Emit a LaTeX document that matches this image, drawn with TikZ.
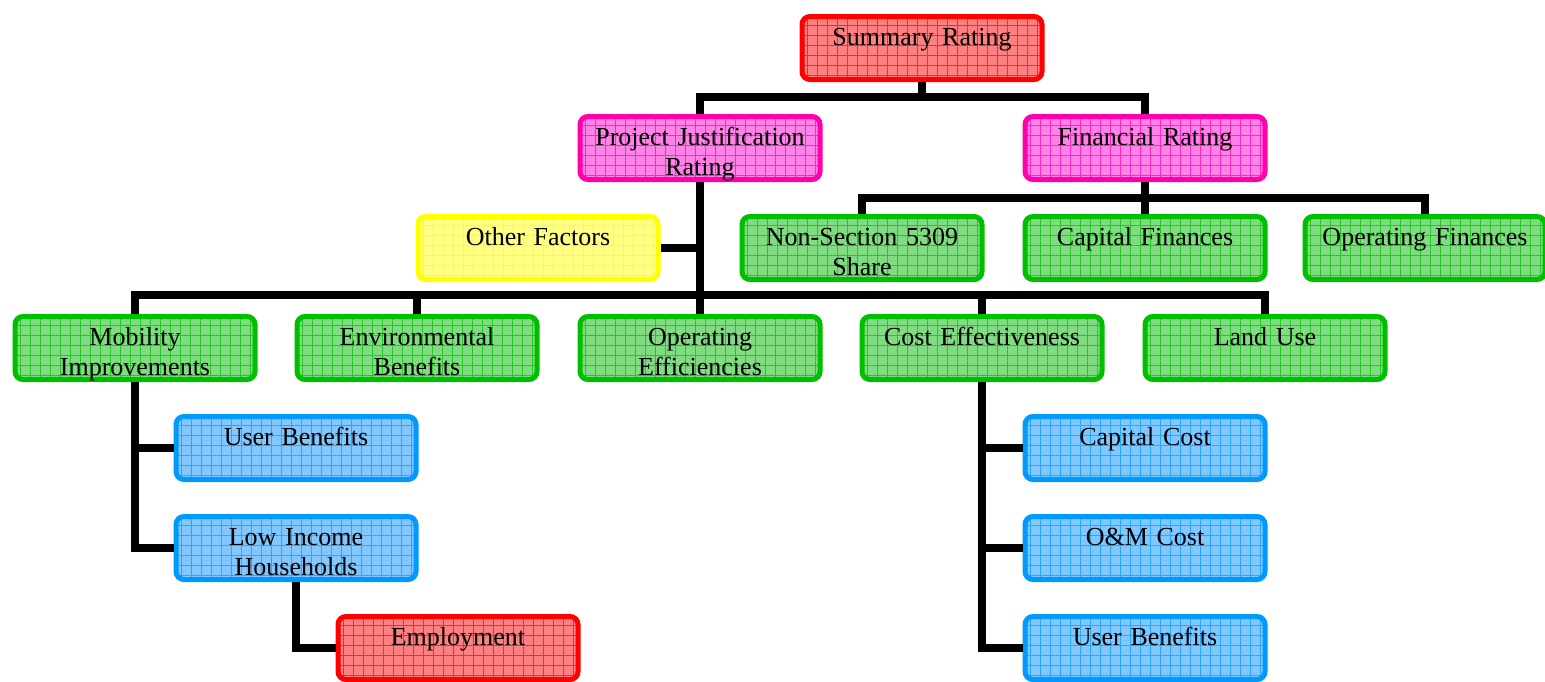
\documentclass[tikz,border=0pt]{standalone}
\usepackage{fontspec}
\setmainfont{Liberation Serif}
\usetikzlibrary{calc}

\definecolor{redline}{RGB}{255,0,0}
\definecolor{redfill}{RGB}{255,128,128}
\definecolor{pinkline}{RGB}{255,0,170}
\definecolor{pinkfill}{RGB}{255,130,232}
\definecolor{yellowline}{RGB}{255,255,0}
\definecolor{yellowfill}{RGB}{255,255,130}
\definecolor{greenline}{RGB}{0,190,0}
\definecolor{greenfill}{RGB}{128,220,128}
\definecolor{blueline}{RGB}{0,153,255}
\definecolor{bluefill}{RGB}{128,200,255}

\tikzset{
  orgbox/.style={draw=#1line, fill=#1fill, line width=5pt, rounded corners=8pt,
    text width=230pt, align=center, minimum width=240pt,
    inner xsep=0pt, inner ysep=0pt, text height=29pt, text depth=34pt,
    font=\fontsize{26}{30}\selectfont,
    path picture={\draw[#1line!70!#1fill, line width=0.5pt, step=10pt]
      (path picture bounding box.south west) grid (path picture bounding box.north east);}},
  link/.style={line width=7.5pt}
}

\begin{document}
\begin{tikzpicture}[x=1pt, y=-1pt]
  \useasboundingbox (0,0) rectangle (1545,681);
  % rating boxes
  \node[orgbox=red] (sumrate) at (922,48) {Summary Rating};
  \node[orgbox=pink] (projrate) at (700,148) {Project Justification\\Rating};
  \node[orgbox=pink] (finrate) at (1145,148) {Financial Rating};
  % second level
  \node[orgbox=yellow] (other) at (538,248) {Other Factors};
  \node[orgbox=green] (nonsec) at (862,248) {Non-Section 5309\\Share};
  \node[orgbox=green] (capfin) at (1145,248) {Capital Finances};
  \node[orgbox=green] (opfin) at (1425,248) {Operating Finances};
  % justification criteria
  \node[orgbox=green] (mobil) at (135,348) {Mobility\\Improvements};
  \node[orgbox=green] (envben) at (417,348) {Environmental\\Benefits};
  \node[orgbox=green] (opeff) at (700,348) {Operating\\Efficiencies};
  \node[orgbox=green] (costeff) at (982,348) {Cost Effectiveness};
  \node[orgbox=green] (landuse) at (1265,348) {Land Use};
  % measures
  \node[orgbox=blue] (userben) at (296,448) {User Benefits};
  \node[orgbox=blue] (lowinc) at (296,548) {Low Income\\Households};
  \node[orgbox=red] (employ) at (458,648) {Employment};
  \node[orgbox=blue] (capcost) at (1145,448) {Capital Cost};
  \node[orgbox=blue] (omcost) at (1145,548) {O\&M Cost};
  \node[orgbox=blue] (userbentwo) at (1145,648) {User Benefits};

  % connectors
  \foreach \n in {projrate,finrate}{\draw[link] (sumrate.south) -- ++(0,15) -| (\n.north);}
  \foreach \n in {nonsec,capfin,opfin}{\draw[link] (finrate.south) -- ++(0,16) -| (\n.north);}
  \coordinate (jbus) at ($(projrate.south)+(0,113)$);
  \foreach \n in {mobil,envben,opeff,costeff,landuse}{\draw[link] (projrate.south) -- (jbus) -| (\n.north);}
  \draw[link] (other.east) -- (other.east -| projrate.south);
  \foreach \n in {userben,lowinc}{\draw[link] (mobil.south) |- (\n.west);}
  \draw[link] (lowinc.south) |- (employ.west);
  \foreach \n in {capcost,omcost,userbentwo}{\draw[link] (costeff.south) |- (\n.west);}
\end{tikzpicture}
\end{document}
